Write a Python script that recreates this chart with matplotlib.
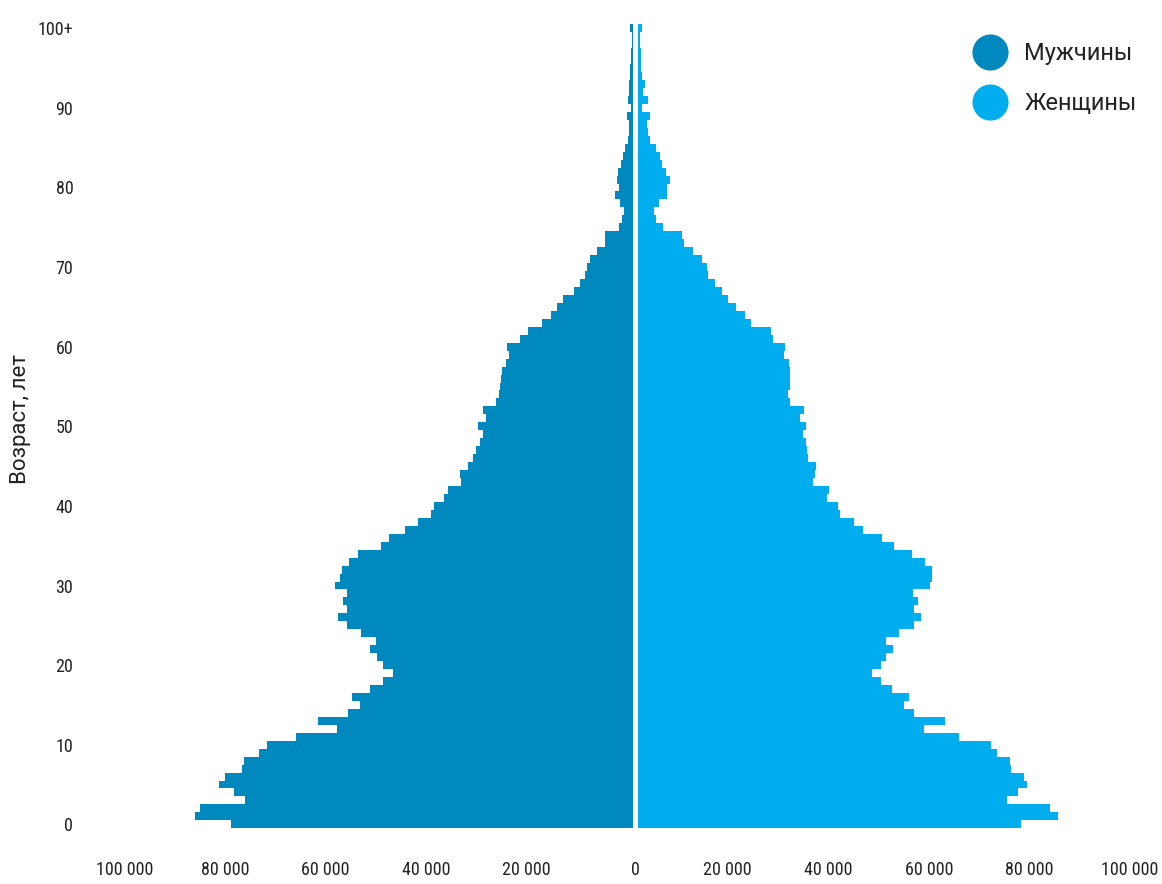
import numpy as np
import matplotlib
matplotlib.use("Agg")
import matplotlib.pyplot as plt
from matplotlib import font_manager
from matplotlib.lines import Line2D

# Численность населения по однолетним возрастам (0 ... 100+), человек
ages = np.arange(0, 101)
men = [
    80000, 87200, 86200, 77200, 79400, 82400, 81200, 77800, 77400, 74400,
    72800, 67100, 58900, 62700, 56700, 54300, 55900, 52300, 49900, 47800,
    49800, 50900, 52300, 51100, 54100, 56900, 58700, 56900, 57700, 56900,
    59300, 58300, 57900, 56500, 54700, 50300, 48600, 45400, 42800, 40200,
    39600, 37600, 36800, 34200, 34400, 32800, 31800, 31400, 30600, 30000,
    31000, 29300, 29900, 27300, 26700, 26500, 26300, 26100, 25300, 24700,
    25100, 22500, 20900, 18100, 16300, 15100, 13900, 11900, 10700, 9600,
    9200, 8600, 7200, 5600, 5600, 2800, 2200, 1800, 2600, 3600,
    2800, 3200, 3000, 2400, 2000, 1600, 1000, 800, 800, 1200,
    400, 1000, 800, 800, 600, 600, 400, 400, 200, 200,
    600,
]
women = [
    76100, 83500, 81900, 73300, 75500, 77300, 76700, 74100, 73900, 71300,
    70100, 63800, 56800, 61000, 54800, 52800, 53800, 50400, 48300, 46500,
    48300, 49300, 50600, 49300, 51800, 54800, 56200, 54800, 55600, 54600,
    58000, 58400, 58400, 57000, 54400, 50800, 48500, 44700, 42900, 40100,
    39700, 37500, 37900, 34700, 35100, 35300, 33700, 33500, 33300, 32700,
    33300, 32100, 32900, 30100, 29800, 30100, 30100, 30100, 29900, 29000,
    29200, 26800, 26400, 22500, 21300, 19500, 17900, 16700, 15300, 13900,
    13700, 12700, 10900, 9000, 8600, 5000, 3600, 3200, 4200, 5800,
    5800, 6200, 5600, 4800, 4400, 3600, 2400, 2000, 1800, 2400,
    800, 2000, 1000, 1400, 800, 600, 600, 600, 400, 400,
    700,
]

x_tick_values = [-100000, -80000, -60000, -40000, -20000, 0,
                 20000, 40000, 60000, 80000, 100000]
y_tick_values = [0, 10, 20, 30, 40, 50, 60, 70, 80, 90, 100]
y_tick_labels = ["0", "10", "20", "30", "40", "50", "60", "70", "80", "90", "100+"]

MEN_COLOR = "#0089BF"
WOMEN_COLOR = "#00ADEE"
TEXT_COLOR = "#222222"

# ищем узкий шрифт (condensed / narrow) для подписей делений
narrow = None
for pref in ["Roboto", "Liberation", "Open Sans", "Noto Sans", "DejaVu"]:
    for f in font_manager.fontManager.ttflist:
        fn = f.fname.lower()
        if (("condensed" in fn or "narrow" in fn) and pref.lower().replace(" ", "") in fn.replace(" ", "")
                and f.style == "normal" and f.weight in (400, "normal", "regular")
                and "bold" not in fn and "light" not in fn and "semi" not in fn):
            narrow = f
            break
    if narrow:
        break

if narrow is not None:
    plt.rcParams["font.family"] = [narrow.name, "DejaVu Sans"]
    plt.rcParams["font.stretch"] = narrow.stretch
else:
    plt.rcParams["font.family"] = ["DejaVu Sans"]
    plt.rcParams["font.stretch"] = "condensed"

WIDE = dict(family=["Roboto", "DejaVu Sans"], stretch="normal")

fig = plt.figure(figsize=(11.62, 8.84), dpi=100)
ax = fig.add_axes([90 / 1162, 44 / 884, 1060 / 1162, 825 / 884])

gap = 500  # половина белой щели по центру
ax.barh(ages, -np.array(men), left=-gap, height=1.0, color=MEN_COLOR, linewidth=0)
ax.barh(ages, women, left=gap, height=1.0, color=WOMEN_COLOR, linewidth=0)

ax.set_xlim(-108600, 102300)
ax.set_ylim(-1.97, 101.67)

# подписи оси X чуть сдвинуты влево, как в оригинале
xt = [v - 1700 if v != 0 else 0 for v in x_tick_values]
ax.set_xticks(xt)
ax.set_xticklabels([f"{abs(v):,}".replace(",", " ") for v in x_tick_values])
ax.set_yticks(y_tick_values)
ax.set_yticklabels(y_tick_labels)
ax.tick_params(axis="both", length=0, labelsize=13, colors=TEXT_COLOR)
ax.tick_params(axis="x", pad=15)
ax.tick_params(axis="y", pad=12)

ax.set_ylabel("Возраст, лет", fontsize=16, color=TEXT_COLOR, **WIDE)
ax.yaxis.set_label_coords(-0.056, 0.51)

for s in ax.spines.values():
    s.set_visible(False)

handles = [
    Line2D([], [], marker="o", linestyle="none", markersize=26,
           markerfacecolor=MEN_COLOR, markeredgewidth=0, label="Мужчины"),
    Line2D([], [], marker="o", linestyle="none", markersize=26,
           markerfacecolor=WOMEN_COLOR, markeredgewidth=0, label="Женщины"),
]
leg = ax.legend(handles=handles, loc="upper left", frameon=False,
                bbox_to_anchor=(972 / 1162, 1 - 42 / 884),
                bbox_transform=fig.transFigure, borderaxespad=0, borderpad=0,
                prop=dict(size=17, **WIDE), handlelength=1.5, handletextpad=0.72,
                labelspacing=1.15)
for t in leg.get_texts():
    t.set_color(TEXT_COLOR)

fig.savefig("out.png", dpi=100)
